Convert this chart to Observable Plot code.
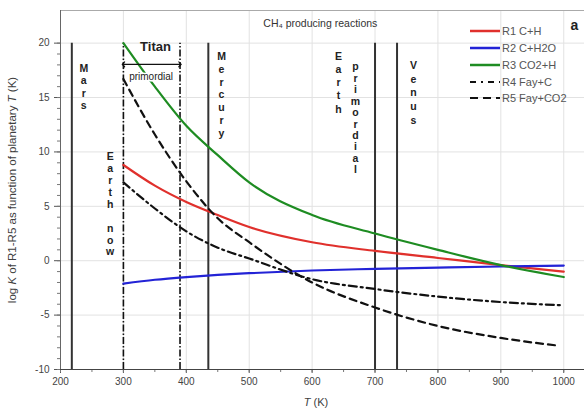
<!DOCTYPE html>
<html><head><meta charset="utf-8">
<script src="https://cdn.jsdelivr.net/npm/d3@7"></script>
<script src="https://cdn.jsdelivr.net/npm/@observablehq/plot@0.6"></script>
<style>
body{margin:0;background:#fff}
#wrap{position:relative;width:584px;height:414px;font-family:"Liberation Sans",Arial,sans-serif}
#legend{position:absolute;left:468px;top:23px;font-size:11px;color:#555}
</style>
</head><body><div id="wrap"></div>
<script>
// ---- data ----
const temps   = [300, 350, 400, 450, 500, 600, 700, 800, 900, 1000];
const tempsR5 = [300, 350, 400, 450, 500, 600, 700, 800, 900, 990];
const r1 = [8.8, 6.9, 5.4, 4.2, 3.1, 1.7, 0.9, 0.25, -0.4, -1.0];
const r2 = [-2.1, -1.75, -1.5, -1.3, -1.15, -0.9, -0.75, -0.63, -0.53, -0.45];
const r3 = [20, 16.0, 12.4, 9.7, 7.2, 4.2, 2.5, 1.0, -0.4, -1.5];
const r4 = [7.2, 4.8, 2.7, 1.2, 0.2, -1.7, -2.6, -3.3, -3.8, -4.1];
const r5 = [16.7, 11.6, 7.3, 3.9, 1.7, -2.0, -4.3, -6.0, -7.1, -7.8];
const seriesNames = ["R1 C+H", "R2 C+H2O", "R3 CO2+H", "R4 Fay+C", "R5 Fay+CO2"];
const seriesColors = ["#e0302c", "#2323d6", "#1e8c22", "#111", "#111"];
const seriesDash = [null, null, null, "8,4,2,4", "7,5"];
const planetNames = ["Mars", "Earth now", "Titan", "Mercury", "Earth primordial", "Venus"];
const planetT = [218, 300, 390, 435, 700, 735];
const planetDashed = [false, true, true, false, false, false];
const xTicks = [200, 300, 400, 500, 600, 700, 800, 900, 1000];
const yTicks = [-10, -5, 0, 5, 10, 15, 20];
const yMinor = d3.range(-10, 21, 1);
const xMinor = d3.range(200, 1001, 50);

const seriesT = [temps, temps, temps, temps, tempsR5];
const seriesV = [r1, r2, r3, r4, r5];
const rows = seriesNames.map((name, i) => seriesT[i].map((T, j) => ({name, T, logK: seriesV[i][j]})));

const planets = planetNames.map((name, i) => ({name, T: planetT[i], dashed: planetDashed[i]}));
const stack = s => s.split("").map(c => c === " " ? "" : c).join("\n");

const txt = (name, x, y, lh) => Plot.text([name], {x: () => x, y: () => y, text: d => stack(d),
  lineHeight: lh, fontSize: 10.5, fontWeight: "bold", fill: "#222", lineAnchor: "middle"});

const chart = Plot.plot({
  width: 584, height: 414,
  marginLeft: 60, marginRight: 0, marginTop: 10, marginBottom: 45,
  style: {fontFamily: "Liberation Sans, Arial, sans-serif", fontSize: "10px", background: "#fff", color: "#444"},
  x: {domain: [200, 1033]},
  y: {domain: [-10, 23]},
  marks: [
    Plot.ruleX(xTicks.slice(1), {y1: -10, y2: 23, stroke: "#e2e2e2"}),
    Plot.ruleY(yTicks.slice(1), {x1: 200, x2: 1033, stroke: "#e2e2e2"}),
    Plot.ruleY([23], {x1: 200, x2: 1033, stroke: "#aaa"}),
    Plot.ruleX(planets.filter(d => !d.dashed), {x: "T", y1: -10, y2: 20, stroke: "#333", strokeWidth: 2}),
    Plot.ruleX(planets.filter(d => d.dashed), {x: "T", y1: -10, y2: 20, stroke: "#111", strokeWidth: 1.6, strokeDasharray: "7,2,1.5,2"}),
    ...rows.map((r, i) => Plot.line(r, {x: "T", y: "logK", stroke: seriesColors[i], strokeWidth: 2.2,
      strokeDasharray: seriesDash[i], curve: "monotone-x"})),
    // axes
    Plot.axisY({ticks: yTicks, tickSize: 6, tickPadding: 5, tickFormat: d => String(d), fontSize: 10, label: null, stroke: "#555"}),
    Plot.axisY({ticks: yMinor, tickSize: 3, text: null, label: null, stroke: "#777"}),
    Plot.axisX({ticks: xTicks, tickSize: 4, tickPadding: 4, tickFormat: d => String(d), fontSize: 10, label: null, stroke: "#555"}),
    Plot.axisX({ticks: xMinor, tickSize: 3, text: null, label: null, stroke: "#777"}),
    Plot.ruleX([200], {y1: -10, y2: 23, stroke: "#666"}),
    Plot.ruleY([-10], {x1: 200, x2: 1033, stroke: "#444"}),
    // planet labels
    txt("Mars", 237, 16.0, 1.15),
    txt("Earth now", 279, 5.2, 1.13),
    txt("Mercury", 456, 15.3, 1.22),
    txt("Earth", 642, 16.4, 1.24),
    txt("primordial", 669, 13.1, 1.09),
    txt("Venus", 761, 15.5, 1.3),
    Plot.text(["Titan"], {x: () => 351, y: () => 19.7, text: d => d, fontSize: 13, fontWeight: "bold", fill: "#222"}),
    Plot.line([{T: 300, v: 18.05}, {T: 390, v: 18.05}], {x: "T", y: "v", stroke: "#111", strokeWidth: 1.2, markerStart: "arrow-reverse", markerEnd: "arrow"}),
    Plot.text(["primordial"], {x: () => 344, y: () => 16.9, text: d => d, fontSize: 10, fill: "#222", stroke: "#fff", strokeWidth: 3}),
    Plot.text(["CH\u2084 producing reactions"], {x: () => 613, y: () => 21.8, text: d => d, fontSize: 10.5, fill: "#333"}),
    Plot.text(["a"], {x: () => 1017, y: () => 21.6, text: d => d, fontSize: 14, fontWeight: "bold", fill: "#222"})
  ]
});

const svg = d3.select(chart);
svg.append("text").attr("transform", "translate(13,190) rotate(-90)").attr("text-anchor", "middle")
  .attr("font-size", 11.5).attr("fill", "#404040").attr("dominant-baseline", "middle")
  .call(t => {
    t.append("tspan").text("log ");
    t.append("tspan").attr("font-style", "italic").text("K");
    t.append("tspan").text(" of R1-R5 as function of planetary ");
    t.append("tspan").attr("font-style", "italic").text("T");
    t.append("tspan").text(" (K)");
  });
svg.append("text").attr("x", 316).attr("y", 406).attr("text-anchor", "middle")
  .attr("font-size", 11).attr("fill", "#404040")
  .call(t => { t.append("tspan").attr("font-style", "italic").text("T"); t.append("tspan").text(" (K)"); });

const wrap = document.getElementById("wrap");
wrap.appendChild(chart);

// legend overlay
const leg = d3.select(wrap).append("div").attr("id", "legend");
seriesNames.forEach((name, i) => {
  const row = leg.append("div").style("display", "flex").style("align-items", "center").style("height", "16.75px");
  const s = row.append("svg").attr("width", 32).attr("height", 8);
  s.append("line").attr("x1", 2).attr("x2", 32).attr("y1", 4).attr("y2", 4)
    .attr("stroke", seriesColors[i]).attr("stroke-width", i < 3 ? 2.5 : 2.2)
    .attr("stroke-dasharray", i === 3 ? "6,5,2,5" : i === 4 ? "8,5" : null);
  row.append("span").style("margin-left", "2px").text(name);
});
</script>
</body></html>
